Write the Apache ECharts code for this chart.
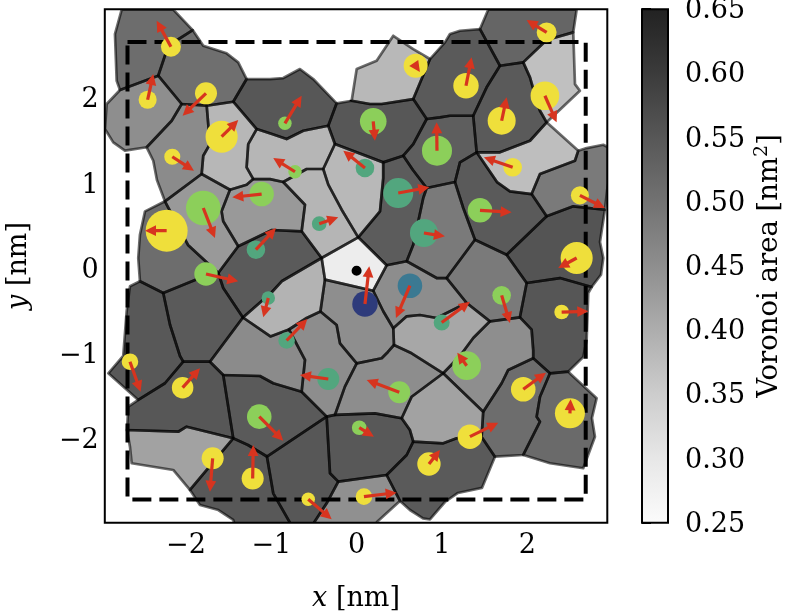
<!DOCTYPE html>
<html><head><meta charset="utf-8">
<script src="https://cdn.jsdelivr.net/npm/echarts@6/dist/echarts.min.js"></script>
<style>html,body{margin:0;padding:0;background:#fff}#c{width:791px;height:616px}</style>
</head><body><div id="c"></div>
<script>
// ---- axes ----
const xMin=-2.951, xMax=2.938, yMin=-2.957, yMax=3.071;
const xTicks=[-2,-1,0,1,2];
const yTicks=[-2,-1,0,1,2];
const cbarTicks=[0.25,0.30,0.35,0.40,0.45,0.50,0.55,0.60,0.65];
// colormap (Voronoi area -> gray level)
const cmapLevels=[0.25,0.30,0.35,0.40,0.45,0.50,0.55,0.60,0.65];
const cmapGrays=[251,231,205,173,142,114,87,59,34];
const boxHalf=2.685;

// ---- Voronoi vertices [name, x nm, y nm] ----
const vertices=[
['P1',-2.753,3.067],['P2',-2.149,3.067],['P3',-1.921,2.826],['P4',-1.797,2.642],['P5',-1.523,2.553],['P6',-1.387,2.447],['P7',-1.289,2.251],
['PA1',-2.832,2.779],['PA2',-2.812,2.231],['P8',-2.773,2.122],
['V0',-2.207,2.642],['V1',-2.325,2.290],['V2',-2.050,1.958],['V3',-1.446,1.985],['V4',-1.757,1.938],['M1',-2.167,1.762],['V5',-2.460,1.450],
['PB1',-2.929,1.958],['PB2',-2.949,1.664],['PB3',-2.852,1.508],['PB4',-2.715,1.410],
['V6',-1.171,1.664],['D1',-1.270,1.488],['D2',-1.289,1.215],['D3',-1.211,1.077],['D4',-1.289,1.011],
['V7',-1.816,1.136],['V8',-2.246,0.816],['V9',-1.484,0.952],['E1',-1.719,1.488],['E2',-1.797,1.351],['E3',-2.340,1.066],['E4',-2.383,1.292],
['F1',-1.976,0.303],['V10',-1.621,-0.026],['F2',-1.836,-0.085],['V11',-2.266,-0.261],['Q1',-2.539,-0.123],['F3',-2.559,0.150],['F4',-2.539,0.424],['F5',-2.480,0.698],
['G1',-1.582,0.698],['G2',-1.563,0.581],['V12',-1.387,0.288],
['I1',-1.015,2.251],['I2',-0.860,2.263],['I3',-0.664,2.369],['I4',-0.508,2.251],['V14',-0.234,1.966],['V15',-0.332,1.703],['I5',-0.625,1.644],['I6',-0.820,1.547],['I7',-0.992,1.606],
['J1',-0.058,1.996],['J2',0.156,1.958],['J3',0.294,1.958],['V16',0.664,2.016],['V17',0.821,1.782],['J4',0.664,1.488],['V18',0.547,1.351],['V19',0.312,1.273],['V20',-0.254,1.488],
['K1',0.001,2.369],['K2',0.235,2.466],['K3',0.430,2.759],['K4',0.664,2.603],['V21',0.860,2.486],
['L1',1.035,2.682],['L2',1.094,2.779],['L3',1.211,2.818],['V22',1.446,2.838],['V23',1.680,2.407],['L4',1.524,2.154],['V24',1.367,1.820],['L5',1.094,1.820],['L6',0.977,1.802],
['MT1',1.543,3.067],['MT2',2.579,3.067],['V25',2.539,2.799],['M2',2.227,2.709],['V26',1.953,2.447],
['N1',2.559,2.192],['N2',2.617,2.114],['V27',2.227,1.743],['N3',2.149,1.879],['N4',2.110,1.996],['N5',2.032,2.271],
['O1',2.032,1.527],['O2',1.680,1.391],['V28',1.407,1.391],
['V29',2.598,1.410],['PP1',2.559,1.292],['PP2',2.149,1.136],['V30',2.051,0.901],['PP3',1.797,0.933],['PP4',1.645,1.042],
['Q2',2.696,1.441],['Q3',2.891,1.480],['Q4',2.946,1.450],['Q5',2.946,1.031],['Q6',2.910,0.717],['Q7',2.539,0.757],
['V31',2.227,0.640],['V32',1.758,0.189],['V33',1.387,0.365],['R1',1.250,0.737],['V34',1.153,1.042],['R2',1.211,1.273],
['V84',0.821,0.972],['S3',0.660,1.183],
['T1',0.312,1.089],['T2',0.274,0.698],['V35',0.019,0.393],['T3',-0.175,0.717],['T4',-0.332,1.011],['V38',-0.391,1.195],
['U1',-0.585,1.195],['V37',-0.860,1.042],['U2',-1.015,1.077],
['W1',-0.605,0.776],['V36',-0.644,0.464],['W2',-0.992,0.479],['V39',-0.410,0.150],
['Y1',0.781,0.854],['Y2',0.664,0.306],['V40',0.587,0.112],['V41',0.352,0.065],['V42',0.195,-0.234],['V43',-0.371,-0.104],
['V44',1.055,-0.085],['Z1',0.938,-0.085],
['AB1',2.852,0.338],['AB2',2.891,0.150],['AB3',2.864,-0.046],['V48',2.755,-0.190],['AB4',2.383,-0.085],['V46',1.993,-0.143],
['V45',1.563,-0.593],['V47',1.914,-0.546],['V83',1.290,-0.378],
['AC1',2.715,-0.261],['AC2',2.696,-0.812],['AC3',2.656,-1.012],['V51',2.480,-1.184],['V50',2.266,-1.203],['V49',2.070,-1.027],
['AF1',2.070,-0.930],['AF2',2.051,-0.691],['AF3',1.777,-1.164],['AF4',1.700,-1.320],['V52',1.484,-1.654],['V79',1.015,-1.203],['AF5',1.211,-1.000],['AF6',1.367,-0.789],
['AD1',2.813,-1.496],['AD2',2.758,-1.728],['AD3',2.793,-1.947],['AD4',2.656,-2.318],['AD5',2.266,-2.259],['V55',1.953,-2.162],
['AE1',2.149,-1.771],['AE2',2.110,-1.712],['AE3',2.149,-1.478],['V53',1.621,-2.182],['V80',1.465,-1.951],
['AV1',1.328,-1.939],['AV2',1.172,-1.966],['AV3',1.015,-2.025],['V59',0.664,-2.006],['AV4',0.625,-1.869],['V58',0.528,-1.731],['AV5',0.645,-1.478],
['AX1',0.645,-0.968],['V81',0.438,-0.871],['V82',0.430,-0.675],['AX2',0.587,-0.534],['AX3',0.742,-0.519],['AX4',0.938,-0.554],
['AY1',0.312,-0.475],['AZ1',0.367,-0.953],['AZ2',0.294,-1.027],['V72',0.001,-1.086],['AZ3',-0.137,-1.360],['V75',-0.254,-1.692],['AZ4',0.215,-1.673],
['BA1',-0.195,-0.851],['BA2',-0.234,-0.636],['V63',-0.424,-0.478],['AH1',-0.585,-0.554],['V74',-0.793,-0.689],['V65',-1.010,-0.771],['V13',-1.332,-0.548],['V64',-0.992,-0.249],['AH2',-0.878,-0.123],
['AO1',-0.605,-1.047],['V73',-0.644,-1.419],['V56',-0.351,-1.712],['AP1',-0.977,-1.320],['AP2',-1.133,-1.235],['V69',-1.563,-1.223],['V66',-1.719,-1.067],['H1',-1.563,-0.202],
['V67',-2.032,-1.067],['AI1',-2.070,-1.000],['AI2',-2.187,-0.633],
['AJ1',-2.246,-1.320],['V68',-2.559,-1.516],['AJ2',-2.910,-1.203],['AJ3',-2.735,-1.000],['AJ4',-2.695,-0.475],['AJ5',-2.656,-0.182],
['V62',-1.446,-1.966],['AL1',-1.992,-1.830],['AL2',-2.090,-1.889],['V70',-2.691,-1.869],['AL3',-2.676,-1.595],
['V71',-1.953,-2.573],['AM1',-2.149,-2.338],['AM2',-2.636,-2.259],['AM3',-2.656,-2.065],
['AQ1',-1.273,-2.045],['V76',-1.051,-2.180],['AN1',-0.977,-2.612],['AN2',-0.699,-3.101],['AN4',-1.390,-3.101],['AN5',-1.446,-2.925],['AN6',-1.621,-2.808],['AN7',-1.836,-2.749],
['AS0',-0.312,-2.377],['V77',-0.215,-2.475],['AR1',-0.351,-2.729],['AR3',-0.594,-3.101],
['V60',0.352,-2.397],['AT1',0.508,-2.702],['AT2',0.238,-2.948],['AT3',0.203,-3.101],['AS1',0.587,-2.162],
['AU1',1.469,-2.549],['AU2',1.188,-2.608],['AU3',1.035,-2.714],['AU4',0.860,-2.919],['AU6',0.778,-2.907],['AU5',0.625,-2.808]
];

// ---- Voronoi cells (vertex names) and their areas [nm^2] ----
const cellPolys=[
['P1','P2','P3','V0','V1','P8','PA2','PA1'],
['P8','V1','V2','M1','V5','PB4','PB3','PB2','PB1'],
['P3','P4','P5','P6','P7','V3','V4','V2','V1','V0'],
['V4','V3','V6','D1','D2','D3','D4','V9','V7','E2','E1'],
['V5','M1','V2','V4','E1','E2','V7','V8','E3','E4'],
['V8','F1','V10','F2','V11','Q1','F3','F4','F5'],
['V7','V9','G1','G2','V12','V10','F1','V8'],
['V10','V12','W2','V36','V39','AH2','V64','V13','H1'],
['P7','I1','I2','I3','I4','V14','V15','I5','I6','I7','V6','V3'],
['V14','J1','J2','J3','V16','V17','J4','V18','V19','V20','V15'],
['J1','K1','K2','K3','K4','V21','V16','J3','J2'],
['V21','L1','L2','L3','V22','V23','L4','V24','L5','L6','V17','V16'],
['MT1','MT2','V25','M2','V26','V23','V22'],
['V25','N1','N2','V27','N3','N4','N5','V26','M2'],
['V23','V26','N5','N4','N3','V27','O1','O2','V28','V24','L4'],
['V28','O2','O1','V27','V29','PP1','PP2','V30','PP3','PP4'],
['V29','Q2','Q3','Q4','Q5','Q6','Q7','V31','V30','PP2','PP1'],
['V28','PP4','PP3','V30','V31','V32','V33','R1','V34','R2'],
['V17','L6','L5','V24','V28','R2','V34','V84','S3','V18','J4'],
['V20','V19','T1','T2','V35','T3','T4','V38'],
['V6','I7','I6','I5','V15','V20','V38','U1','V37','U2','D3','D2','D1'],
['V9','D4','D3','U2','V37','W1','V36','W2','V12','G2','G1'],
['V37','U1','V38','T4','T3','V35','V39','V36','W1'],
['V19','V18','S3','V84','Y1','Y2','V40','V41','V35','T2','T1'],
['V84','V34','R1','V33','V44','Z1','V40','Y2','Y1'],
['V33','V32','V46','V47','V45','V83','V44'],
['V31','Q7','Q6','AB1','AB2','AB3','V48','AB4','V46','V32'],
['V46','AB4','V48','AC1','AC2','AC3','V51','V50','V49','AF1','AF2','V47'],
['V50','V51','AD1','AD2','AD3','AD4','AD5','V55','AE1','AE2','AE3'],
['V49','V50','AE3','AE2','AE1','V55','V53','V80','V52','AF4','AF3'],
['V45','V47','AF2','AF1','V49','AF3','AF4','V52','V79','AF5','AF6'],
['V13','V64','AH2','V39','V43','V63','AH1','V74','V65'],
['V10','H1','V13','V66','V67','AI1','AI2','V11','F2'],
['Q1','V11','AI2','AI1','V67','AJ1','V68','AJ2','AJ3','AJ4','AJ5'],
['V67','V66','V69','V62','AL1','AL2','V70','AL3','V68','AJ1'],
['V70','AL2','AL1','V62','V71','AM1','AM2','AM3'],
['V62','AQ1','V76','AN1','AN2','AN4','AN5','AN6','AN7','V71'],
['V74','AH1','V63','BA2','BA1','V72','AZ3','V75','V56','V73','AO1'],
['V13','V65','V74','AO1','V73','AP1','AP2','V69','V66'],
['V69','AP2','AP1','V73','V56','V76','AQ1','V62'],
['V76','V56','AS0','V77','AR1','AR3','AN2','AN1'],
['V56','V75','AZ4','V58','AV4','V59','AS1','V60','V77','AS0'],
['V77','V60','AT1','AT2','AT3','AR3','AR1'],
['V59','AV3','AV2','AV1','V80','V53','AU1','AU2','AU3','AU4','AU6','AU5','AT1','V60','AS1'],
['V58','AV5','V79','V52','V80','AV1','AV2','AV3','V59','AV4'],
['V83','V45','AF6','AF5','V79','AX1','V81','V82','AX2','AX3','AX4'],
['V41','V40','Z1','V44','V83','AX4','AX3','AX2','V82','AY1','V42'],
['V72','AZ2','AZ1','V81','AX1','V79','AV5','V58','AZ4','V75','AZ3'],
['V43','V42','AY1','V82','V81','AZ1','AZ2','V72','BA1','BA2','V63'],
['V39','V35','V41','V42','V43']
];
const cellAreas=[
0.510,0.450,0.505,0.385,0.456,0.510,0.432,0.545,0.550,0.550,
0.383,0.545,0.524,0.370,0.545,0.373,0.485,0.545,0.537,0.383,
0.386,0.432,0.388,0.540,0.485,0.485,0.556,0.552,0.515,0.510,
0.450,0.390,0.545,0.548,0.550,0.418,0.548,0.452,0.455,0.545,
0.550,0.548,0.446,0.545,0.418,0.410,0.452,0.452,0.450,0.285
];

// ---- particles: position, radius [nm], colour class, displacement tip ----
const pX=[-2.176,-2.449,-1.765,-1.582,-2.160,-0.840,0.195,0.692,0.942,-0.722,0.098,0.488,2.227,1.282,1.700,2.207,1.829,-1.797,-2.226,-1.113,-1.180,-1.765,-1.035,-0.438,0.789,0.098,0.625,-0.820,0.997,1.446,2.617,2.579,1.700,2.403,-2.656,-2.039,-1.141,-1.687,-1.218,-0.332,0.500,0.031,0.848,1.328,1.290,-0.567,0.086,1.953,2.500,0.000];
const pY=[2.630,2.008,2.083,1.574,1.339,1.731,1.755,2.407,1.410,1.163,1.207,0.913,2.799,2.173,1.762,2.055,1.215,0.737,0.471,0.901,0.248,-0.038,-0.319,0.553,0.444,-0.390,-0.175,-0.818,-0.607,0.710,0.886,0.150,-0.288,-0.484,-1.067,-1.372,-1.712,-2.201,-2.438,-1.270,-1.426,-1.842,-2.268,-1.947,-1.114,-2.682,-2.651,-1.391,-1.673,0.000];
const pR=[0.117,0.106,0.129,0.188,0.094,0.079,0.156,0.141,0.176,0.079,0.109,0.176,0.117,0.149,0.164,0.168,0.109,0.203,0.246,0.144,0.109,0.137,0.079,0.086,0.164,0.149,0.144,0.097,0.094,0.144,0.106,0.188,0.109,0.086,0.097,0.126,0.144,0.129,0.129,0.129,0.129,0.086,0.137,0.144,0.168,0.079,0.097,0.144,0.176,0.059];
const pKind=['Y','Y','Y','Y','Y','G','G','Y','G','G','T','T','Y','Y','Y','Y','Y','G','Y','G','T','G','T','T','T','N','B','T','T','G','Y','Y','G','Y','Y','Y','G','Y','Y','T','G','G','Y','Y','G','Y','Y','Y','Y','K'];
const tipX=[-2.343,-2.383,-2.039,-1.387,-1.906,-0.644,0.215,0.742,0.938,-0.977,-0.156,0.851,1.993,1.348,1.758,2.344,1.492,-1.660,-2.480,-1.457,-0.945,-1.387,-1.094,-0.215,1.035,0.148,0.461,-0.578,1.328,1.817,2.910,2.363,1.797,2.715,-2.531,-1.836,-0.860,-1.719,-1.211,-0.664,0.118,0.203,0.977,1.660,1.180,-0.292,0.469,2.219,2.508,null];
const tipY=[2.935,2.310,1.820,1.770,1.175,2.055,1.527,2.333,1.743,1.324,1.410,0.980,2.944,2.506,2.036,1.743,1.332,0.385,0.471,0.863,0.502,-0.123,-0.546,0.628,0.405,0.053,-0.554,-0.566,-0.363,0.687,0.737,0.033,-0.613,-0.475,-1.419,-1.144,-1.994,-2.593,-2.045,-1.223,-1.282,-1.947,-2.103,-1.783,-0.961,-2.917,-2.604,-1.196,-1.508,null];
const kindColors={Y:'#efdf3b',G:'#8ccf5a',T:'#52a67e',B:'#3b7992',N:'#2e3b7b',K:'#000000'};
const arrowColor='#d7341f';

const font="'DejaVu Serif','Liberation Serif',serif";
const fs=27;
const VX={}; vertices.forEach(v=>{VX[v[0]]=[v[1],v[2]];});
function grayOf(a){
  let i=0; while(i<cmapLevels.length-2 && a>cmapLevels[i+1]) i++;
  const t=Math.max(0,Math.min(1,(a-cmapLevels[i])/(cmapLevels[i+1]-cmapLevels[i])));
  const g=Math.round(cmapGrays[i]+(cmapGrays[i+1]-cmapGrays[i])*t);
  return 'rgb('+g+','+g+','+g+')';
}
function tickFmt(v){ return v<0 ? '\u2212'+Math.abs(v) : String(v); }

const chart=echarts.init(document.getElementById('c'),null,{renderer:'canvas'});
const cellData=cellAreas.map(a=>[0,0,a]);
const particleData=pX.map((x,i)=>[x,pY[i],pR[i],i]);
const arrowData=[]; pX.forEach((x,i)=>{ if(tipX[i]!==null) arrowData.push([x,pY[i],tipX[i],tipY[i]]); });
const txt={fontFamily:font,fontSize:fs,color:'#000'};
const txtB={fontFamily:font,fontSize:27.5,color:'#000'};

const option={
  animation:false,
  backgroundColor:'#fff',
  grid:[
    {left:104.8,top:9.2,width:502.5,height:513.5,show:false,containLabel:false,outerBoundsMode:'none'},
    {left:642,top:9.2,width:26,height:513.5,show:false,containLabel:false,outerBoundsMode:'none'}
  ],
  xAxis:[
    {gridIndex:0,type:'value',min:xMin,max:xMax,splitLine:{show:false},axisLine:{show:false},
     axisTick:{show:true,inside:false,length:7,customValues:xTicks,lineStyle:{color:'#000',width:2}},
     axisLabel:Object.assign({customValues:xTicks,formatter:tickFmt,margin:10},txt),
     name:'{i|x} {r|[nm]}',nameLocation:'middle',nameGap:63,
     nameTextStyle:Object.assign({rich:{i:Object.assign({fontStyle:'italic'},txt),r:txt}},txt)},
    {gridIndex:1,type:'value',min:0,max:1,show:false}
  ],
  yAxis:[
    {gridIndex:0,type:'value',min:yMin,max:yMax,splitLine:{show:false},axisLine:{show:false},
     axisTick:{show:true,inside:false,length:7,customValues:yTicks,lineStyle:{color:'#000',width:2}},
     axisLabel:Object.assign({customValues:yTicks,formatter:tickFmt,margin:6},txt),
     name:'{i|y} {r|[nm]}',nameLocation:'middle',nameGap:72,nameRotate:90,
     nameTextStyle:Object.assign({rich:{i:Object.assign({fontStyle:'italic'},txt),r:txt}},txt)},
    {gridIndex:1,type:'value',min:0.25,max:0.65,position:'right',splitLine:{show:false},axisLine:{show:false},
     axisTick:{show:true,inside:false,length:9,customValues:cbarTicks,lineStyle:{color:'#000',width:2}},
     axisLabel:Object.assign({customValues:cbarTicks,formatter:v=>v.toFixed(2),margin:17,verticalAlign:'top',lineHeight:4},txt),
     name:'{r|Voronoi area [nm}{s|2}{r|]}',nameLocation:'middle',nameGap:85,nameRotate:90,
     nameTextStyle:Object.assign({rich:{r:Object.assign({lineHeight:33},txtB),s:{fontFamily:font,fontSize:19,color:'#000',verticalAlign:'top',lineHeight:33}}},txtB)}
  ],
  series:[
    {type:'custom',name:'cells',xAxisIndex:0,yAxisIndex:0,clip:true,z:1,silent:true,data:cellData,
     renderItem:function(params,api){
       const pts=cellPolys[params.dataIndex].map(n=>api.coord(VX[n]));
       return {type:'polygon',shape:{points:pts},style:{fill:grayOf(api.value(2)),stroke:null,lineWidth:0}};
     }},
    {type:'custom',name:'edges',xAxisIndex:0,yAxisIndex:0,clip:true,z:2,silent:true,data:cellData,
     renderItem:function(params,api){
       const pts=cellPolys[params.dataIndex].map(n=>api.coord(VX[n]));
       return {type:'polygon',shape:{points:pts},style:{fill:'none',stroke:'rgba(0,0,0,0.57)',lineWidth:2.7,lineJoin:'round'}};
     }},
    {type:'custom',name:'box',xAxisIndex:0,yAxisIndex:0,clip:true,z:3,silent:true,data:[[-boxHalf,-boxHalf,boxHalf,boxHalf]],
     renderItem:function(params,api){
       const a=api.coord([api.value(0),api.value(3)]), b=api.coord([api.value(2),api.value(1)]);
       return {type:'rect',shape:{x:a[0],y:a[1],width:b[0]-a[0],height:b[1]-a[1]},style:{fill:'none',stroke:'#000',lineWidth:4,lineDash:[19,8]}};
     }},
    {type:'custom',name:'particles',xAxisIndex:0,yAxisIndex:0,clip:true,z:4,silent:true,data:particleData,
     renderItem:function(params,api){
       const c=api.coord([api.value(0),api.value(1)]);
       const r=api.size([api.value(2),0])[0];
       return {type:'circle',shape:{cx:c[0],cy:c[1],r:r},style:{fill:kindColors[pKind[api.value(3)]]}};
     }},
    {type:'custom',name:'displacement',xAxisIndex:0,yAxisIndex:0,clip:true,z:5,silent:true,data:arrowData,
     renderItem:function(params,api){
       const p0=api.coord([api.value(0),api.value(1)]), p1=api.coord([api.value(2),api.value(3)]);
       const dx=p1[0]-p0[0], dy=p1[1]-p0[1], L=Math.hypot(dx,dy)||1;
       const ux=dx/L, uy=dy/L, hl=11, hw=5.4;
       const bx=p1[0]-ux*hl, by=p1[1]-uy*hl;
       const ch=[];
       if(L>hl) ch.push({type:'line',shape:{x1:p0[0],y1:p0[1],x2:bx+ux*1.5,y2:by+uy*1.5},style:{stroke:arrowColor,lineWidth:3.2}});
       ch.push({type:'polygon',shape:{points:[[p1[0],p1[1]],[bx-uy*hw,by+ux*hw],[bx+uy*hw,by-ux*hw]]},style:{fill:arrowColor}});
       return {type:'group',children:ch};
     }},
    {type:'custom',name:'frame',xAxisIndex:0,yAxisIndex:0,clip:false,z:10,silent:true,data:[[xMin,yMin,xMax,yMax]],
     renderItem:function(params,api){
       const a=api.coord([api.value(0),api.value(3)]), b=api.coord([api.value(2),api.value(1)]);
       return {type:'rect',shape:{x:a[0],y:a[1],width:b[0]-a[0],height:b[1]-a[1]},style:{fill:'none',stroke:'#000',lineWidth:2}};
     }},
    {type:'custom',name:'colorbar',xAxisIndex:1,yAxisIndex:1,clip:false,z:10,silent:true,data:[[0,cmapLevels[0],1,cmapLevels[cmapLevels.length-1]]],
     renderItem:function(params,api){
       const a=api.coord([api.value(0),api.value(3)]), b=api.coord([api.value(2),api.value(1)]);
       const lo=cmapLevels[0], hi=cmapLevels[cmapLevels.length-1];
       const stops=cmapLevels.map((l,i)=>({offset:(l-lo)/(hi-lo),color:'rgb('+cmapGrays[i]+','+cmapGrays[i]+','+cmapGrays[i]+')'}));
       const grad=new echarts.graphic.LinearGradient(0,1,0,0,stops);
       return {type:'group',children:[
         {type:'rect',shape:{x:a[0],y:a[1],width:b[0]-a[0],height:b[1]-a[1]},style:{fill:grad}},
         {type:'rect',shape:{x:a[0],y:a[1],width:b[0]-a[0],height:b[1]-a[1]},style:{fill:'none',stroke:'#000',lineWidth:2}}
       ]};
     }}
  ]
};
chart.setOption(option);
</script></body></html>
